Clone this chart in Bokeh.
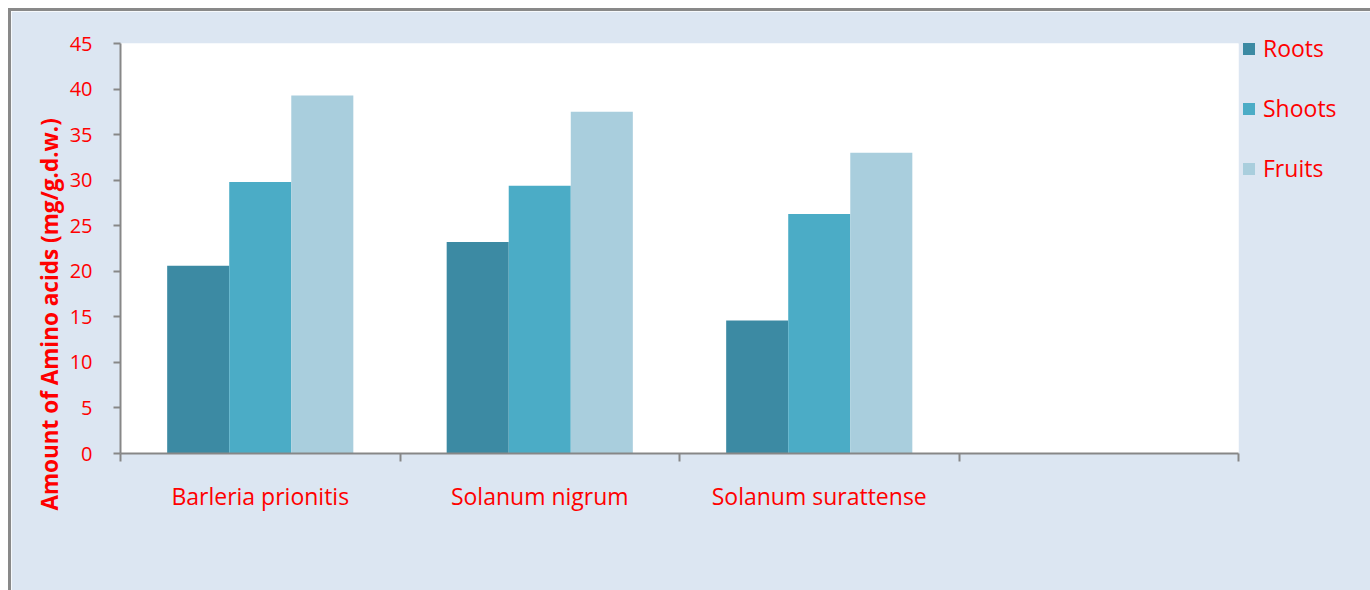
from bokeh.plotting import figure
from bokeh.models import (Legend, LegendItem, FixedTicker, Range1d, Title,
                          ColumnDataSource, InlineStyleSheet)
from bokeh.embed import file_html
from bokeh.resources import INLINE

species = ["Barleria prionitis", "Solanum nigrum", "Solanum surattense", ""]
roots = [20.6, 23.2, 14.6]
shoots = [29.8, 29.4, 26.3]
fruits = [39.3, 37.5, 33.0]
series_names = ["Roots", "Shoots", "Fruits"]
colors = ["#3c8aa3", "#4bacc6", "#a9cedd"]
y_ticks = [0, 5, 10, 15, 20, 25, 30, 35, 40, 45]
y_title = "Amount of Amino acids (mg/g.d.w.)"

FONT = "Open Sans"
RED = "#ff0000"
AXIS_GRAY = "#878787"

p = figure(frame_width=1118, frame_height=410,
           x_range=Range1d(0, len(species)), y_range=Range1d(0, 45),
           output_backend="svg", toolbar_location=None,
           min_border_left=109, min_border_right=128,
           min_border_top=32, min_border_bottom=137,
           background_fill_color="white", border_fill_color="#dce6f2",
           outline_line_color=None, margin=(11, 0, 0, 11),
           stylesheets=[InlineStyleSheet(css=":host { box-shadow: 0 0 0 3px #898989; }")])

bar_w = 0.222
offsets = [-bar_w, 0.0, bar_w]
series = [roots, shoots, fruits]
items = []
for name, vals, off, col in zip(series_names, series, offsets, colors):
    xs = [i + 0.5 + off for i in range(len(vals))]
    src = ColumnDataSource(dict(x=xs, top=vals))
    r = p.vbar(x="x", top="top", width=bar_w, bottom=0, source=src,
               fill_color=col, line_color=None)
    items.append(LegendItem(label=name, renderers=[r]))

# x axis: boundary ticks as minor ticks, category labels centered
xt = FixedTicker(ticks=[i + 0.5 for i in range(len(species))],
                 minor_ticks=list(range(len(species) + 1)))
p.xaxis.ticker = xt
p.xaxis.major_label_overrides = {i + 0.5: s for i, s in enumerate(species)}
p.xaxis.major_tick_out = 0
p.xaxis.major_tick_in = 0
p.xaxis.minor_tick_out = 8
p.xaxis.minor_tick_in = 0
p.xaxis.minor_tick_line_color = AXIS_GRAY
p.xaxis.minor_tick_line_width = 2
p.xaxis.axis_line_color = AXIS_GRAY
p.xaxis.axis_line_width = 2
p.xaxis.major_label_standoff = 18
p.xaxis.major_label_text_color = RED
p.xaxis.major_label_text_font = FONT
p.xaxis.major_label_text_font_size = "23px"

p.yaxis.ticker = FixedTicker(ticks=y_ticks)
p.yaxis.major_tick_out = 7
p.yaxis.major_tick_in = 0
p.yaxis.minor_tick_line_color = None
p.yaxis.major_tick_line_color = AXIS_GRAY
p.yaxis.major_tick_line_width = 2
p.yaxis.axis_line_color = AXIS_GRAY
p.yaxis.axis_line_width = 2
p.yaxis.major_label_standoff = 21
p.yaxis.major_label_text_color = RED
p.yaxis.major_label_text_font = FONT
p.yaxis.major_label_text_font_size = "20px"

p.xgrid.visible = False
p.ygrid.visible = False

ttl = Title(text=y_title, align="left", offset=-57, standoff=3,
            text_color=RED, text_font=FONT, text_font_style="bold",
            text_font_size="22.5px")
p.add_layout(ttl, "left")

legend = Legend(items=items, location=(3, 269), orientation="vertical",
                glyph_width=15, glyph_height=15, spacing=28,
                label_text_color=RED, label_text_font=FONT,
                label_text_font_size="23px", label_standoff=7,
                border_line_color=None, background_fill_alpha=0,
                margin=0, padding=5)
p.add_layout(legend, "right")

open("out.html", "w").write(file_html(p, INLINE))
